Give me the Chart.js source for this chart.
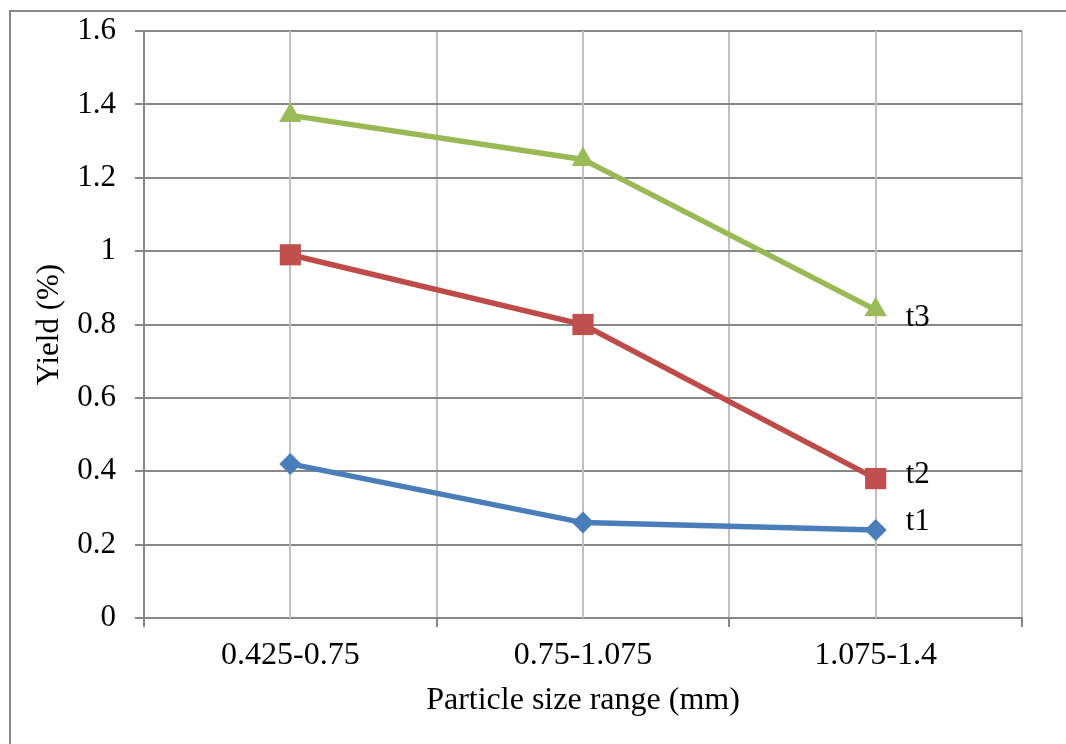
<!DOCTYPE html>
<html>
<head>
<meta charset="utf-8">
<script src="https://cdn.jsdelivr.net/npm/chart.js@4/dist/chart.umd.min.js"></script>
<style>
  html, body { margin: 0; padding: 0; background: #fff; }
  #wrap { position: relative; width: 1066px; height: 744px; overflow: hidden; }
  #frame { position: absolute; left: 9px; top: 10px; width: 1100px; height: 800px;
           border-left: 2px solid #878787; border-top: 2px solid #878787; }
  canvas { position: absolute; left: 0; top: 0; }
</style>
</head>
<body>
<div id="wrap">
  <div id="frame"></div>
  <canvas id="c" width="1066" height="744"></canvas>
</div>
<script>
const categories = ['0.425-0.75', '0.75-1.075', '1.075-1.4'];
const seriesNames = ['t1', 't2', 't3'];
const t1 = [0.42, 0.26, 0.24];
const t2 = [0.99, 0.80, 0.38];
const t3 = [1.37, 1.25, 0.84];
const yTicks = [0, 0.2, 0.4, 0.6, 0.8, 1, 1.2, 1.4, 1.6];
const xTitle = 'Particle size range (mm)';
const yTitle = 'Yield (%)';

const FONT = 'Liberation Serif, Times New Roman, serif';
const DARK = '#878787';
const LIGHT = '#c0c0c0';

const centerGrid = {
  id: 'centerGrid',
  beforeDatasetsDraw(chart) {
    const {ctx, chartArea, scales} = chart;
    ctx.save();
    ctx.strokeStyle = LIGHT;
    ctx.lineWidth = 2;
    categories.forEach((c, i) => {
      const x = Math.round(scales.x.getPixelForValue(i));
      ctx.beginPath();
      ctx.moveTo(x, chartArea.top);
      ctx.lineTo(x, chartArea.bottom);
      ctx.stroke();
    });
    ctx.restore();
  }
};

const endLabels = {
  id: 'endLabels',
  afterDatasetsDraw(chart) {
    const {ctx} = chart;
    const dy = [-8, -4, 8];
    ctx.save();
    ctx.font = '31px ' + FONT;
    ctx.fillStyle = '#000';
    ctx.textBaseline = 'middle';
    ctx.textAlign = 'left';
    chart.data.datasets.forEach((ds, i) => {
      const meta = chart.getDatasetMeta(i);
      const pt = meta.data[meta.data.length - 1];
      ctx.fillText(ds.label, pt.x + 30, pt.y + dy[i]);
    });
    ctx.restore();
  }
};

new Chart(document.getElementById('c'), {
  type: 'line',
  data: {
    labels: categories,
    datasets: [
      { label: seriesNames[0], data: t1, borderColor: '#4a7ebb', backgroundColor: '#4a7ebb',
        borderWidth: 5.5, pointStyle: 'rectRot', pointRadius: 11, pointBorderWidth: 0, tension: 0 },
      { label: seriesNames[1], data: t2, borderColor: '#be4b48', backgroundColor: '#c0504d',
        borderWidth: 5.5, pointStyle: 'rect', pointRadius: 15, pointBorderWidth: 0, tension: 0 },
      { label: seriesNames[2], data: t3, borderColor: '#98b954', backgroundColor: '#9bbb59',
        borderWidth: 5.5, pointStyle: 'triangle', pointRadius: 13, pointBorderWidth: 0, tension: 0 }
    ]
  },
  options: {
    responsive: false,
    animation: false,
    layout: { padding: { top: 31, right: 44, left: 0, bottom: 0 } },
    plugins: { legend: { display: false }, tooltip: { enabled: false } },
    scales: {
      x: {
        type: 'category',
        offset: true,
        grid: {
          offset: true,
          color: (c) => c.index === 0 ? DARK : LIGHT,
          lineWidth: 2,
          tickColor: DARK,
          tickLength: 9,
          tickWidth: 2
        },
        border: { display: true, color: DARK, width: 2 },
        ticks: { color: '#000', font: { family: FONT, size: 32 }, padding: 9, maxRotation: 0 },
        title: { display: true, text: xTitle, color: '#000', font: { family: FONT, size: 32 },
                 padding: { top: 0, bottom: 24 } },
        afterFit(s) { s.height = 126; s.paddingLeft = 0; s.paddingRight = 0; }
      },
      y: {
        min: 0, max: 1.6,
        afterBuildTicks(s) { s.ticks = yTicks.map(v => ({ value: v })); },
        grid: { color: DARK, lineWidth: 2, tickColor: DARK, tickLength: 9 },
        border: { display: true, color: DARK, width: 2 },
        ticks: { color: '#000', font: { family: FONT, size: 31 }, padding: 19,
                 callback: (v) => String(v) },
        title: { display: true, text: yTitle, color: '#000', font: { family: FONT, size: 31 },
                 padding: { top: 31, bottom: 0 } },
        afterFit(s) { s.width = 144; s.paddingTop = 0; s.paddingBottom = 0; }
      }
    }
  },
  plugins: [centerGrid, endLabels]
});
</script>
</body>
</html>
